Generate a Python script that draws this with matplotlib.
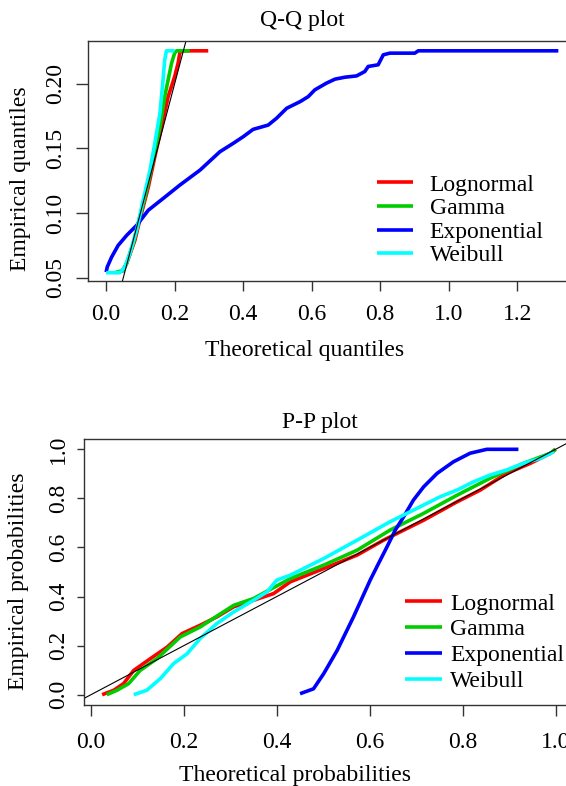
import numpy as np
import matplotlib
matplotlib.use("Agg")
import matplotlib.pyplot as plt

plt.rcParams["font.family"] = ["Liberation Serif", "DejaVu Serif"]
FS = 17

# ---- data (Q-Q panel) ----
qq_lnorm_x = [0.045, 0.0595, 0.0838, 0.103, 0.123, 0.142, 0.162, 0.181, 0.200, 0.210, 0.215, 0.220, 0.298]
qq_lnorm_y = [0.0543, 0.0609, 0.0789, 0.0996, 0.120, 0.1435, 0.1667, 0.190, 0.2055, 0.2159, 0.2237, 0.2254, 0.2254]
qq_gamma_x = [0.0254, 0.0497, 0.0595, 0.0788, 0.0984, 0.118, 0.137, 0.157, 0.171, 0.181, 0.191, 0.200, 0.206, 0.244]
qq_gamma_y = [0.0539, 0.0557, 0.0609, 0.0764, 0.097, 0.1177, 0.141, 0.1667, 0.190, 0.203, 0.2159, 0.2237, 0.2254, 0.2254]
qq_exp_x = [0.0, 0.003, 0.016, 0.035, 0.06, 0.089, 0.123, 0.166, 0.215, 0.274, 0.332, 0.371, 0.40, 0.429,
            0.473, 0.4975, 0.527, 0.566, 0.590, 0.609, 0.643, 0.668, 0.697, 0.731, 0.755, 0.765, 0.794,
            0.809, 0.828, 0.901, 0.911, 1.32]
qq_exp_y = [0.0543, 0.0582, 0.066, 0.075, 0.0828, 0.0905, 0.1022, 0.1112, 0.1216, 0.1332, 0.1474, 0.1539,
            0.159, 0.1647, 0.168, 0.1733, 0.181, 0.1861, 0.190, 0.1952, 0.2004, 0.2035, 0.2050, 0.2060,
            0.2094, 0.2133, 0.2146, 0.2223, 0.2236, 0.2236, 0.2254, 0.2254]
qq_weib_x = [0.0, 0.040, 0.0546, 0.069, 0.0888, 0.108, 0.128, 0.142, 0.157, 0.166, 0.171, 0.176, 0.200]
qq_weib_y = [0.0539, 0.0539, 0.0582, 0.0686, 0.0867, 0.110, 0.1332, 0.1539, 0.1771, 0.203, 0.2184, 0.2254, 0.2254]

# ---- data (P-P panel) ----
pp_lnorm_x = [0.024, 0.049, 0.070, 0.092, 0.128, 0.164, 0.196, 0.235, 0.271, 0.307, 0.350, 0.393, 0.429,
              0.501, 0.573, 0.630, 0.666, 0.716, 0.788, 0.838, 0.895, 0.946, 0.989, 1.0]
pp_lnorm_y = [0.0, 0.018, 0.045, 0.099, 0.147, 0.194, 0.249, 0.283, 0.317, 0.358, 0.385, 0.412, 0.46,
              0.514, 0.569, 0.630, 0.664, 0.711, 0.786, 0.834, 0.902, 0.943, 0.984, 1.0]
pp_gamma_x = [0.034, 0.056, 0.081, 0.106, 0.142, 0.192, 0.235, 0.307, 0.350, 0.429, 0.501, 0.573, 0.644,
              0.716, 0.788, 0.859, 0.931, 0.989, 1.0]
pp_gamma_y = [0.0, 0.018, 0.045, 0.099, 0.147, 0.235, 0.276, 0.364, 0.392, 0.473, 0.528, 0.589, 0.671,
              0.739, 0.813, 0.882, 0.943, 0.984, 1.0]
pp_exp_x = [0.450, 0.479, 0.501, 0.530, 0.565, 0.583, 0.601, 0.619, 0.637, 0.655, 0.673, 0.694, 0.716,
            0.745, 0.780, 0.816, 0.852, 0.920]
pp_exp_y = [0.004, 0.024, 0.086, 0.181, 0.317, 0.392, 0.467, 0.535, 0.602, 0.671, 0.725, 0.793, 0.847,
            0.902, 0.949, 0.984, 1.0, 1.0]
pp_weib_x = [0.092, 0.120, 0.149, 0.178, 0.207, 0.235, 0.271, 0.307, 0.350, 0.379, 0.400, 0.429, 0.501,
             0.573, 0.644, 0.680, 0.716, 0.752, 0.788, 0.824, 0.859, 0.895, 0.931, 0.967, 0.996]
pp_weib_y = [0.0, 0.018, 0.065, 0.127, 0.167, 0.229, 0.29, 0.337, 0.385, 0.419, 0.467, 0.487, 0.555,
             0.630, 0.705, 0.739, 0.773, 0.807, 0.834, 0.868, 0.895, 0.916, 0.943, 0.963, 0.990]

labels = ["Lognormal", "Gamma", "Exponential", "Weibull"]
colors = ["#ff0000", "#00cd00", "#0000ff", "#00ffff"]

W, H = 566, 786
fig = plt.figure(figsize=(W / 100, H / 100), dpi=100)

def box(l, t, r, b):
    return [l / W, 1 - b / H, (r - l) / W, (b - t) / H]

ax1 = fig.add_axes(box(88, 41.5, 576.5, 281.5))
ax2 = fig.add_axes(box(84, 439, 573.7, 705))

def style(ax, xlen, ylen, xpad, ypad):
    for s in ax.spines.values():
        s.set_color("#333333"); s.set_linewidth(1.0)
    ax.tick_params(axis="x", length=xlen, pad=xpad, width=1, color="#333333", labelsize=FS)
    ax.tick_params(axis="y", length=ylen, pad=ypad, width=1, color="#333333", labelsize=FS, labelrotation=90)
    for t in ax.get_yticklabels():
        t.set_va("center")

# --- Q-Q plot ---
for xs, ys, c, lab in [(qq_lnorm_x, qq_lnorm_y, colors[0], labels[0]), (qq_gamma_x, qq_gamma_y, colors[1], labels[1]),
                       (qq_exp_x, qq_exp_y, colors[2], labels[2]), (qq_weib_x, qq_weib_y, colors[3], labels[3])]:
    ax1.plot(xs, ys, color=c, lw=2.6, label=lab, solid_capstyle="butt")
ax1.axline((0, 0), (1, 1), color="black", lw=0.8)
ax1.set_xlim(-0.053, 1.373); ax1.set_ylim(0.0471, 0.2326)
ax1.set_xticks([0.0, 0.2, 0.4, 0.6, 0.8, 1.0, 1.2]); ax1.set_xticklabels(["0.0", "0.2", "0.4", "0.6", "0.8", "1.0", "1.2"])
ax1.set_yticks([0.05, 0.10, 0.15, 0.20]); ax1.set_yticklabels(["0.05", "0.10", "0.15", "0.20"])
style(ax1, 7.2, 8.6, 9, 7.2)
ax1.legend(loc="upper left", bbox_to_anchor=(376.7 / W, 1 - 174 / H), bbox_transform=fig.transFigure,
           frameon=False, fontsize=FS, handlelength=1.55, handletextpad=0.7, labelspacing=0.09,
           borderpad=0, borderaxespad=0)

# --- P-P plot ---
for xs, ys, c, lab in [(pp_lnorm_x, pp_lnorm_y, colors[0], labels[0]), (pp_gamma_x, pp_gamma_y, colors[1], labels[1]),
                       (pp_exp_x, pp_exp_y, colors[2], labels[2]), (pp_weib_x, pp_weib_y, colors[3], labels[3])]:
    ax2.plot(xs, ys, color=c, lw=2.6, label=lab, solid_capstyle="butt")
ax2.axline((0, 0), (1, 1), color="black", lw=0.8)
ax2.set_xlim(-0.015, 1.039); ax2.set_ylim(-0.042, 1.042)
ax2.set_xticks([0.0, 0.2, 0.4, 0.6, 0.8, 1.0]); ax2.set_xticklabels(["0.0", "0.2", "0.4", "0.6", "0.8", "1.0"])
ax2.set_yticks([0.0, 0.2, 0.4, 0.6, 0.8, 1.0]); ax2.set_yticklabels(["0.0", "0.2", "0.4", "0.6", "0.8", "1.0"])
style(ax2, 8, 5, 11.2, 5.8)
ax2.legend(loc="upper left", bbox_to_anchor=(405 / W, 1 - 593 / H), bbox_transform=fig.transFigure,
           frameon=False, fontsize=FS, handlelength=1.55, handletextpad=0.35, labelspacing=0.18,
           borderpad=0, borderaxespad=0)

# titles and axis labels placed where the reference has them
fig.text(302 / W, 1 - 26 / H, "Q-Q plot", ha="center", va="baseline", fontsize=FS)
fig.text(305 / W, 1 - 356 / H, "Theoretical quantiles", ha="center", va="baseline", fontsize=FS)
fig.text(21 / W, 1 - 179 / H, "Empirical quantiles", ha="center", va="center", rotation=90, fontsize=FS)
fig.text(320 / W, 1 - 428 / H, "P-P plot", ha="center", va="baseline", fontsize=FS)
fig.text(295 / W, 1 - 781 / H, "Theoretical probabilities", ha="center", va="baseline", fontsize=FS)
fig.text(19 / W, 1 - 581.5 / H, "Empirical probabilities", ha="center", va="center", rotation=90, fontsize=FS)

fig.savefig("out.png", dpi=100)
